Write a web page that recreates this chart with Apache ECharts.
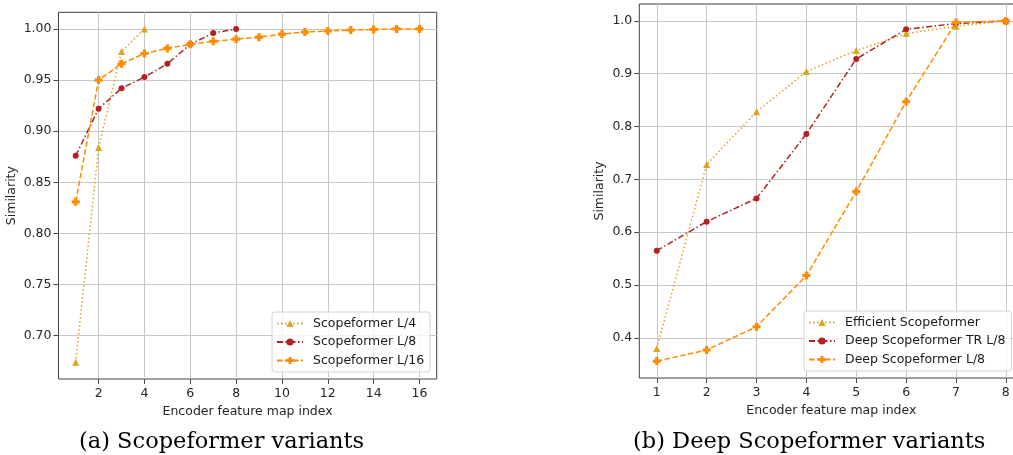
<!DOCTYPE html>
<html>
<head>
<meta charset="utf-8">
<script src="https://cdn.jsdelivr.net/npm/echarts@6/dist/echarts.min.js"></script>
<style>
  html, body { margin: 0; padding: 0; background: #fff; overflow: hidden; }
  /* wider than the window: the right panel runs off the edge as in the original */
  #main { width: 1030px; height: 455px; }
</style>
</head>
<body>
<div id="main"></div>
<script>
// (a) Scopeformer variants
var xA = [1, 2, 3, 4, 5, 6, 7, 8, 9, 10, 11, 12, 13, 14, 15, 16];
var l4 = [0.674, 0.884, 0.978, 1.0];
var l8 = [0.876, 0.922, 0.942, 0.953, 0.966, 0.985, 0.996, 1.0];
var l16 = [0.831, 0.950, 0.966, 0.976, 0.981, 0.985, 0.988, 0.990, 0.992, 0.995, 0.997, 0.998, 0.999, 0.9995, 1.0, 1.0];
var xTicksA = [2, 4, 6, 8, 10, 12, 14, 16];
var yTicksA = [0.70, 0.75, 0.80, 0.85, 0.90, 0.95, 1.00];

// (b) Deep Scopeformer variants
var xB = [1, 2, 3, 4, 5, 6, 7, 8];
var efficient = [0.380, 0.728, 0.828, 0.904, 0.944, 0.976, 0.990, 1.0];
var deepTR = [0.565, 0.620, 0.664, 0.786, 0.928, 0.984, 0.995, 1.0];
var deepL8 = [0.356, 0.377, 0.421, 0.518, 0.677, 0.847, 0.997, 1.0];
var xTicksB = [1, 2, 3, 4, 5, 6, 7, 8];
var yTicksB = [0.4, 0.5, 0.6, 0.7, 0.8, 0.9, 1.0];

var GOLD = '#DAA520', RED = '#B22222', ORANGE = '#FF8C00';
var PLUS = 'path://M3,0 H7 V3 H10 V7 H7 V10 H3 V7 H0 V3 H3 Z';
var FONT = 'DejaVu Sans';

function pairs(xs, ys) {
    return ys.map(function (v, i) { return [xs[i], v]; });
}

function xAxis(idx, min, max, ticks) {
    return {
        type: 'value', gridIndex: idx, min: min, max: max,
        name: 'Encoder feature map index', nameLocation: 'middle', nameGap: 21,
        nameTextStyle: { fontFamily: FONT, fontSize: 12.5, color: '#262626' },
        axisLine: { show: false },
        axisTick: { show: true, length: 5, customValues: ticks, lineStyle: { color: '#444' } },
        axisLabel: { customValues: ticks, margin: 8, fontFamily: FONT, fontSize: 12.5, color: '#262626' },
        splitLine: { show: true, lineStyle: { color: '#c8c8c8', width: 1 } }
    };
}

function yAxis(idx, min, max, ticks, digits, gap) {
    return {
        type: 'value', gridIndex: idx, min: min, max: max,
        name: 'Similarity', nameLocation: 'middle', nameGap: gap,
        nameTextStyle: { fontFamily: FONT, fontSize: 12.5, color: '#262626' },
        axisLine: { show: false },
        axisTick: { show: true, length: 5, customValues: ticks, lineStyle: { color: '#444' } },
        axisLabel: {
            customValues: ticks, margin: 7, fontFamily: FONT, fontSize: 12.5, color: '#262626',
            formatter: function (v) { return v.toFixed(digits); }
        },
        splitLine: { show: true, lineStyle: { color: '#c8c8c8', width: 1 } }
    };
}

function line(name, idx, data, color, dash, symbol, size) {
    return {
        name: name, type: 'line', xAxisIndex: idx, yAxisIndex: idx,
        data: data, symbol: symbol, symbolSize: size, showSymbol: true,
        animation: false, clip: false,
        lineStyle: { color: color, width: 1.5, type: dash },
        itemStyle: { color: color }
    };
}

function legend(names, left, top) {
    return {
        data: names, orient: 'vertical', left: left, top: top,
        itemWidth: 26, itemHeight: 9, itemGap: 5.5,
        padding: [5, 6, 5, 4],
        backgroundColor: 'rgba(255,255,255,0.8)',
        borderColor: '#d4d4d4', borderWidth: 1, borderRadius: 3,
        textStyle: { fontFamily: FONT, fontSize: 12.5, color: '#1a1a1a', padding: [0, 0, 0, 5] }
    };
}

var chart = echarts.init(document.getElementById('main'));
var option = {
    backgroundColor: '#fff',
    animation: false,
    grid: [
        { left: 58.5, top: 12.3, width: 378.2, bottom: 76, show: true, borderColor: '#404040', borderWidth: 1, backgroundColor: 'transparent' },
        { left: 639.3, top: 4, width: 384, bottom: 77, show: true, borderColor: '#404040', borderWidth: 1, backgroundColor: 'transparent' }
    ],
    xAxis: [
        xAxis(0, 0.25, 16.75, xTicksA),
        xAxis(1, 0.65, 8.35, xTicksB)
    ],
    yAxis: [
        yAxis(0, 0.6577, 1.0163, yTicksA, 2, 40),
        yAxis(1, 0.324, 1.032, yTicksB, 1, 33)
    ],
    legend: [
        legend(['Scopeformer L/4', 'Scopeformer L/8', 'Scopeformer L/16'], 272, 312),
        legend(['Efficient Scopeformer', 'Deep Scopeformer TR L/8', 'Deep Scopeformer L/8'], 804, 311)
    ],
    series: [
        line('Scopeformer L/4', 0, pairs(xA, l4), GOLD, [1.5, 2.5], 'triangle', 7),
        line('Scopeformer L/8', 0, pairs(xA, l8), RED, [6, 2.5, 1.5, 2.5], 'circle', 6),
        line('Scopeformer L/16', 0, pairs(xA, l16), ORANGE, [5.5, 2.5], PLUS, 8),
        line('Efficient Scopeformer', 1, pairs(xB, efficient), GOLD, [1.5, 2.5], 'triangle', 7),
        line('Deep Scopeformer TR L/8', 1, pairs(xB, deepTR), RED, [6, 2.5, 1.5, 2.5], 'circle', 6),
        line('Deep Scopeformer L/8', 1, pairs(xB, deepL8), ORANGE, [5.5, 2.5], PLUS, 8)
    ],
    graphic: [
        { type: 'text', left: 79, top: 431, style: { text: '(a) Scopeformer variants', font: '22.5px "DejaVu Serif"', fill: '#000' } },
        { type: 'text', left: 633, top: 431, style: { text: '(b) Deep Scopeformer variants', font: '22.5px "DejaVu Serif"', fill: '#000' } }
    ]
};
chart.setOption(option);
</script>
</body>
</html>
